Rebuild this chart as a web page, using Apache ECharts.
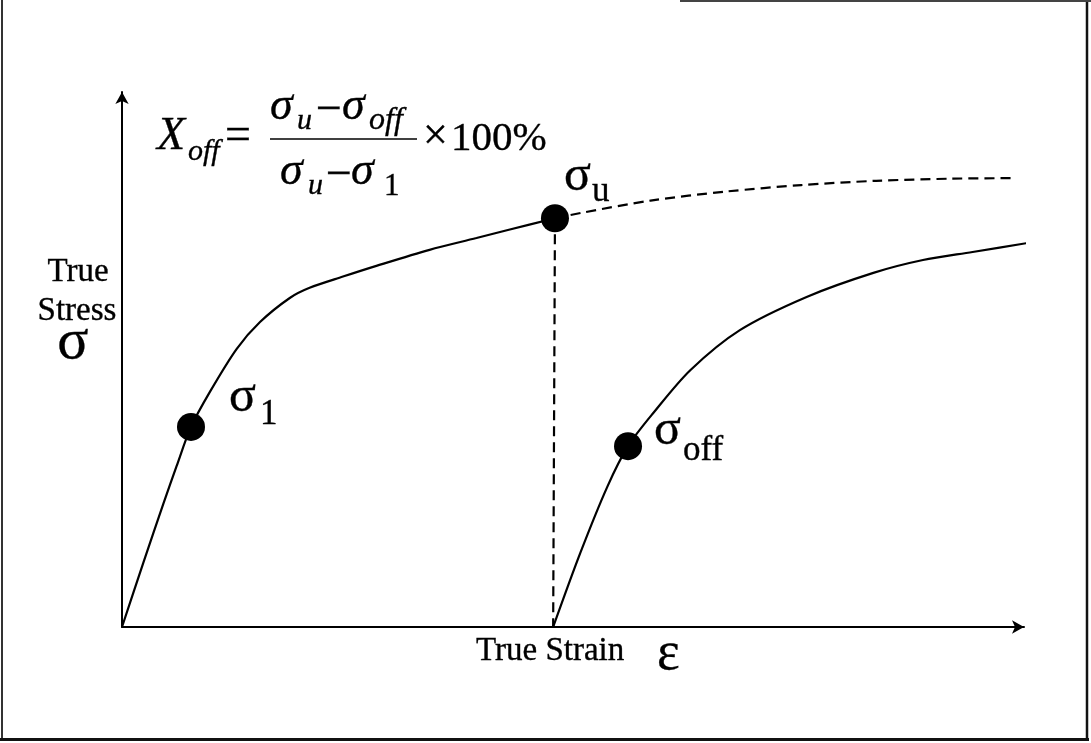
<!DOCTYPE html>
<html>
<head>
<meta charset="utf-8">
<script src="https://cdn.jsdelivr.net/npm/echarts@6/dist/echarts.min.js"></script>
<style>
  html, body { margin: 0; padding: 0; background: #fff; }
  #chart { width: 1091px; height: 743px; }
</style>
</head>
<body>
<div id="chart"></div>
<script>
// Monotonic loading curve up to the ultimate stress (schematic units)
const loadStrain = [0, 2.36, 4.58, 6.06, 7.65, 9.76, 12.72, 15.3, 18.6, 20.8, 24.5, 28.2, 34.1, 39.3, 43.0, 48.0];
const loadStress = [0, 12.0, 23.0, 30.1, 37.4, 44.0, 52.0, 57.0, 61.5, 63.4, 65.5, 67.5, 70.5, 72.7, 74.3, 76.4];

// Extrapolated continuation of the monotonic curve (dashed)
const extStrain = [48.0, 50.9, 58.6, 67.0, 75.3, 83.6, 92.0, 98.8];
const extStress = [76.4, 77.4, 79.7, 81.4, 82.6, 83.4, 83.8, 83.9];

// Drop line from the ultimate point to the strain axis (dashed)
const dropStrain = [48.0, 47.8];
const dropStress = [76.4, 0];

// Reloading curve after the offset
const reloadStrain = [47.8, 50.8, 53.8, 56.1, 58.9, 63.0, 68.5, 75.9, 83.3, 88.8, 94.3, 101.2];
const reloadStress = [0, 13.8, 26.2, 33.8, 40.0, 48.0, 55.5, 61.7, 66.2, 68.6, 70.1, 72.0];

// Marked points: sigma_1, sigma_u, sigma_off
const keyStrain = [7.65, 48.0, 56.1];
const keyStress = [37.4, 76.4, 33.8];
const keySubs = ['1', 'u', 'off'];

const zip = (xs, ys) => xs.map((x, i) => [x, ys[i]]);

const chart = echarts.init(document.getElementById('chart'), null, { renderer: 'canvas' });

const axisCommon = {
  type: 'value',
  min: 0,
  max: 100,
  axisLine: {
    show: true,
    onZero: false,
    symbol: ['none', 'arrow'],
    symbolSize: [10, 12],
    lineStyle: { color: '#000', width: 2 }
  },
  axisTick: { show: false },
  axisLabel: { show: false },
  splitLine: { show: false }
};

const curveStyle = { color: '#000', width: 2.2 };
const dashStyle = { color: '#000', width: 2.2, type: [10, 6] };

chart.setOption({
  animation: false,
  backgroundColor: '#fff',
  grid: { left: 122, top: 92, width: 902, height: 535 },
  xAxis: axisCommon,
  yAxis: axisCommon,
  series: [
    {
      type: 'line', data: zip(loadStrain, loadStress), smooth: 0.3,
      showSymbol: false, clip: false, lineStyle: curveStyle, z: 2
    },
    {
      type: 'line', data: zip(extStrain, extStress), smooth: 0.3,
      showSymbol: false, clip: false, lineStyle: dashStyle, z: 2
    },
    {
      type: 'line', data: zip(dropStrain, dropStress),
      showSymbol: false, clip: false, lineStyle: dashStyle, z: 2
    },
    {
      type: 'line', data: zip(reloadStrain, reloadStress), smooth: 0.3,
      showSymbol: false, clip: false, lineStyle: curveStyle, z: 2
    },
    {
      type: 'scatter', data: zip(keyStrain, keyStress), symbol: 'circle', symbolSize: 28,
      itemStyle: { color: '#000', opacity: 1 }, clip: false, z: 3
    }
  ]
});

const SERIF = '"Liberation Serif", "Times New Roman", serif';

// Text placed by its alphabetic baseline
function txt(x, baseline, text, size, italic, align) {
  return {
    type: 'text',
    x: x,
    y: baseline - 0.32 * size,
    silent: true,
    style: {
      text: text,
      font: (italic ? 'italic ' : '') + size + 'px ' + SERIF,
      fill: '#000',
      stroke: '#000',
      lineWidth: 0.35,
      align: align || 'left',
      textAlign: align || 'left',
      verticalAlign: 'middle',
      textVerticalAlign: 'middle'
    }
  };
}

function hline(x1, x2, y, w, color) {
  return {
    type: 'line', silent: true,
    shape: { x1: x1, y1: y, x2: x2, y2: y },
    style: { stroke: color || '#000', lineWidth: w }
  };
}
function vline(x, y1, y2, w, color) {
  return {
    type: 'line', silent: true,
    shape: { x1: x, y1: y1, x2: x, y2: y2 },
    style: { stroke: color || '#000', lineWidth: w }
  };
}

const g = [];

// Page frame
g.push(vline(2, 0, 740, 2, '#333'));
g.push(vline(1087, 0, 740, 2.5, '#111'));
g.push(hline(0, 1089, 739.5, 3, '#111'));
g.push(hline(680, 1091, 1, 2, '#444'));

// Axis titles
g.push(txt(78, 283, 'True', 33, false, 'center'));
g.push(txt(77, 322, 'Stress', 33, false, 'center'));
g.push(txt(73, 361, 'σ', 58, false, 'center'));
g.push(txt(476, 662, 'True Strain', 33, false));
g.push(txt(657, 672, 'ε', 54, false));

// Point labels: sigma with subscript, offset from each marked point
const labelOffsets = [
  { sx: 38, sb: -13, bx: 69, bb: -1 },
  { sx: 9, sb: -25, bx: 37, bb: -15 },
  { sx: 26, sb: 1, bx: 55, bb: 16 }
];
keyStrain.forEach((xv, i) => {
  const p = chart.convertToPixel({ seriesIndex: 4 }, [xv, keyStress[i]]);
  const o = labelOffsets[i];
  g.push(txt(p[0] + o.sx, p[1] + o.sb, 'σ', 50, false));
  g.push(txt(p[0] + o.bx, p[1] + o.bb, keySubs[i], 35, false));
});

// Offset ratio formula
g.push(txt(157, 152, 'X', 46, true));
g.push(txt(188, 162, 'off', 30, true));
g.push(txt(225, 152, '=', 46, false));
// numerator
g.push(txt(270, 122, 'σ', 46, true));
g.push(txt(297, 131, 'u', 30, true));
g.push(txt(316, 126, '−', 46, false));
g.push(txt(342, 122, 'σ', 46, true));
g.push(txt(369, 131, 'off', 32, true));
// fraction bar
g.push(hline(270, 417, 139, 1.6));
// denominator
g.push(txt(280, 187, 'σ', 46, true));
g.push(txt(308, 196, 'u', 30, true));
g.push(txt(326, 191, '−', 46, false));
g.push(txt(351, 187, 'σ', 46, true));
g.push(txt(384, 197, '1', 31, false));
// scale factor
g.push(txt(423, 152, '×', 44, false));
g.push(txt(451, 152, '100%', 41, false));

chart.setOption({ graphic: { elements: g } });
</script>
</body>
</html>
